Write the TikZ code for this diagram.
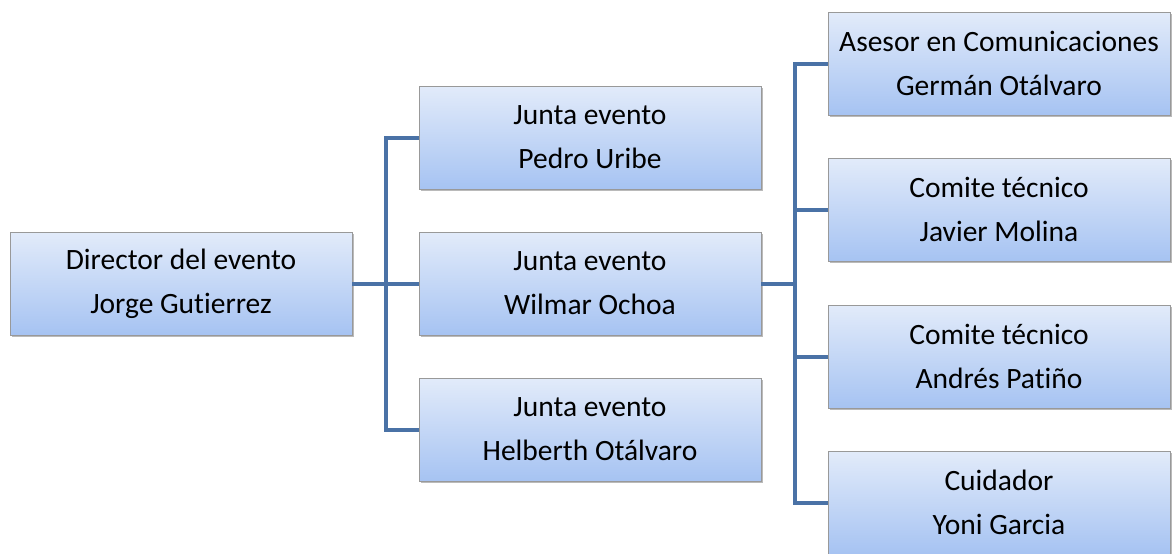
\documentclass[tikz,border=0pt]{standalone}
\usepackage{fontspec}
\setmainfont[RawFeature=-liga]{Carlito}
\usetikzlibrary{shadows}
\definecolor{linec}{HTML}{4A72A6}
\definecolor{topc}{HTML}{E2EBFA}
\definecolor{botc}{HTML}{A6C3F2}
\begin{document}
\begin{tikzpicture}[x=1pt,y=-1pt,
  box/.style={draw=gray!80, line width=0.8pt, minimum width=342pt, minimum height=103pt,
    align=center, inner sep=0pt, top color=topc, bottom color=botc,
    font=\fontsize{29.5}{44}\selectfont,
    drop shadow={shadow xshift=2pt, shadow yshift=-2pt, fill=black!45, opacity=0.6}},
  conn/.style={draw=linec, line width=4pt}]
\useasboundingbox (0,0) rectangle (1173,554);
\node[box] (d) at (181,283.5) {Director del evento\\Jorge Gutierrez};
\node[box] (p) at (590,137.5) {Junta evento\\Pedro Uribe};
\node[box] (w) at (590,283.5) {Junta evento\\Wilmar Ochoa};
\node[box] (h) at (590,429.5) {Junta evento\\Helberth Otálvaro};
\node[box] (a) at (999,63.5) {Asesor en Comunicaciones\\Germán Otálvaro};
\node[box] (j) at (999,209.5) {Comite técnico\\Javier Molina};
\node[box] (n) at (999,356.5) {Comite técnico\\Andrés Patiño};
\node[box] (c) at (999,502.5) {Cuidador\\Yoni Garcia};
\draw[conn] (d.east) -- ++(34,0) coordinate (k1);
\draw[conn] (k1) |- (p.west);
\draw[conn] (k1) -- (w.west);
\draw[conn] (k1) |- (h.west);
\draw[conn] (w.east) -- ++(34,0) coordinate (k2);
\draw[conn] (k2) |- (a.west);
\draw[conn] (k2) |- (j.west);
\draw[conn] (k2) |- (n.west);
\draw[conn] (k2) |- (c.west);
\end{tikzpicture}
\end{document}
